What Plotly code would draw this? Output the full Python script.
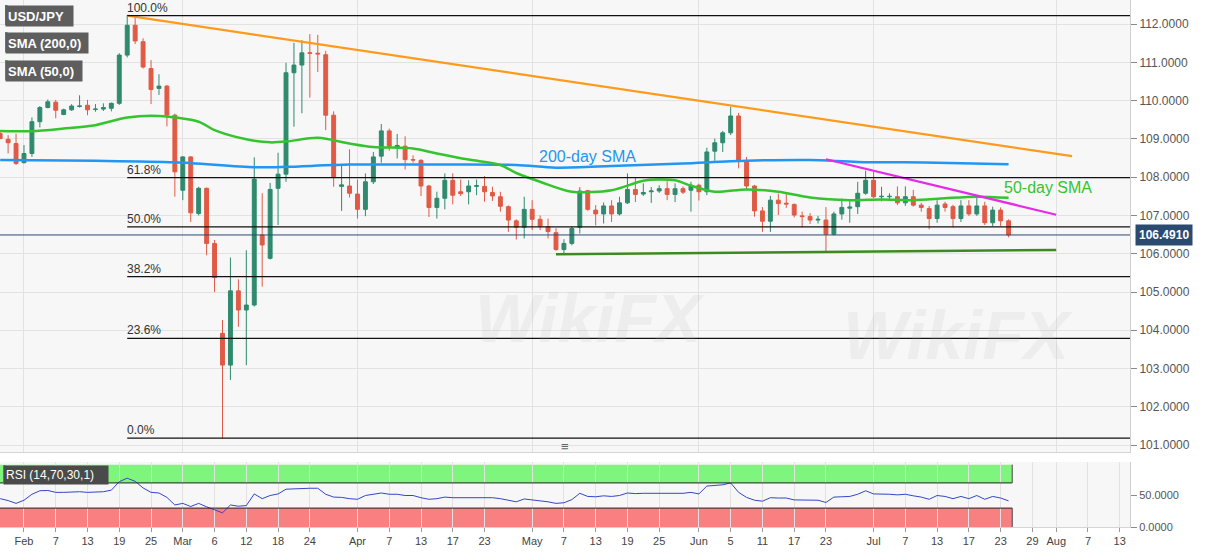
import pandas as pd
import plotly.graph_objects as go
from plotly.subplots import make_subplots

# ---------------- data ----------------
dates = pd.bdate_range("2020-01-29", "2020-07-24")

opens = [
    109.14, 108.99, 108.88,
    108.38, 108.62, 109.45, 109.82, 109.96, 109.64, 109.76, 109.85, 109.88, 109.77,
    109.78, 109.80, 109.93, 111.19, 111.97, 111.54, 110.84, 110.32, 110.38, 109.62,
    107.66, 108.53, 107.05, 107.71, 106.27, 103.92, 103.09, 105.03, 104.53, 104.66,
    106.49, 105.88, 107.71, 108.08, 110.73, 110.93, 111.25, 111.24, 111.20, 109.62,
    107.76, 107.77,
    107.56, 107.16, 107.88, 108.55, 109.21, 108.79, 108.81, 108.46, 108.44, 107.77,
    107.21, 107.45, 107.92, 107.62, 107.62, 107.76, 107.76, 107.60, 107.49, 107.23,
    106.86, 106.69,
    107.16, 106.90, 106.71, 106.55, 106.11, 106.27, 106.69, 107.65, 107.14, 107.04,
    107.25, 107.04, 107.33, 107.68, 107.56, 107.62, 107.64, 107.70, 107.55, 107.70,
    107.66,
    107.79, 107.62, 108.68, 108.90, 109.16, 109.60, 108.43, 107.77, 107.12, 106.85,
    107.40, 107.32, 107.29, 106.99, 106.97, 106.88, 106.88, 106.51, 107.04, 107.19,
    107.23, 107.58,
    107.92, 107.49, 107.49, 107.49, 107.33, 107.49, 107.27, 107.18, 106.92, 107.30,
    107.23, 106.92, 107.25, 107.04, 107.25, 106.81, 107.14, 106.86,
]
highs = [
    109.23, 109.10, 109.14,
    108.84, 109.56, 109.86, 110.03, 110.02, 109.79, 109.91, 110.14, 110.02, 109.91,
    109.93, 109.95, 111.24, 112.24, 112.22, 111.63, 111.06, 110.69, 110.41, 109.66,
    108.55, 108.55, 107.75, 107.73, 106.36, 104.27, 105.90, 105.33, 106.09, 108.52,
    107.58, 107.85, 108.64, 110.99, 111.51, 111.58, 111.74, 111.72, 111.30, 109.72,
    108.32, 108.73,
    107.94, 108.10, 108.66, 109.39, 109.27, 109.13, 109.07, 108.57, 108.47, 107.80,
    107.62, 108.10, 108.10, 107.94, 107.92, 107.94, 108.03, 107.75, 107.62, 107.26,
    106.90, 107.49,
    107.40, 107.00, 106.92, 106.67, 106.38, 106.72, 107.74, 107.67, 107.27, 107.34,
    107.40, 107.49, 108.10, 107.99, 107.84, 107.74, 107.79, 107.90, 107.84, 107.76,
    107.88,
    107.83, 108.77, 109.01, 109.21, 109.84, 109.68, 108.53, 107.80, 107.22, 107.51,
    107.57, 107.58, 107.31, 107.10, 107.06, 106.99, 107.22, 107.10, 107.44, 107.40,
    107.88, 108.17,
    108.14, 107.75, 107.58, 107.76, 107.76, 107.67, 107.33, 107.25, 107.40, 107.36,
    107.28, 107.40, 107.40, 107.49, 107.36, 107.23, 107.21, 106.90,
]
lows = [
    109.00, 108.62, 108.32,
    108.36, 108.53, 109.30, 109.80, 109.54, 109.62, 109.73, 109.82, 109.62, 109.71,
    109.73, 109.72, 109.89, 111.13, 111.48, 110.84, 109.91, 110.15, 109.33, 107.49,
    107.40, 106.83, 107.00, 105.96, 105.00, 101.17, 102.70, 104.09, 103.09, 104.62,
    105.14, 105.85, 106.75, 107.88, 109.32, 109.67, 110.08, 110.75, 109.23, 107.75,
    107.12, 107.47,
    106.92, 106.98, 107.82, 108.38, 108.69, 108.49, 108.20, 108.38, 107.51, 106.96,
    106.92, 107.16, 107.29, 107.51, 107.29, 107.53, 107.36, 107.38, 107.10, 106.57,
    106.37, 106.40,
    106.62, 106.62, 106.40, 106.08, 106.01, 106.22, 106.53, 107.12, 106.74, 106.79,
    106.83, 107.00, 107.30, 107.35, 107.51, 107.33, 107.59, 107.40, 107.35, 107.56,
    107.10,
    107.39, 107.53, 108.43, 108.66, 109.10, 108.23, 107.68, 106.97, 106.57, 106.57,
    107.01, 107.20, 106.95, 106.69, 106.78, 106.79, 106.05, 106.48, 106.89, 106.81,
    107.04, 107.54,
    107.45, 107.37, 107.42, 107.27, 107.25, 107.23, 107.10, 106.64, 106.81, 107.10,
    106.69, 106.83, 106.99, 106.99, 106.75, 106.72, 106.72, 106.43,
]
closes = [
    109.01, 108.90, 108.36,
    108.62, 109.45, 109.82, 109.97, 109.75, 109.76, 109.86, 109.86, 109.76, 109.78,
    109.82, 109.93, 111.19, 111.97, 111.56, 110.88, 110.29, 110.38, 109.62, 108.14,
    108.53, 107.07, 107.71, 106.27, 105.38, 103.09, 105.03, 104.53, 104.66, 107.95,
    106.23, 107.68, 108.08, 110.73, 110.93, 111.25, 111.24, 111.22, 109.62, 108.01,
    107.80, 107.58,
    107.16, 107.88, 108.53, 109.21, 108.81, 108.83, 108.46, 108.45, 107.77, 107.21,
    107.45, 107.92, 107.53, 107.57, 107.77, 107.78, 107.62, 107.51, 107.24, 106.88,
    106.69, 107.16,
    106.90, 106.72, 106.58, 106.11, 106.27, 106.66, 107.64, 107.16, 107.04, 107.25,
    107.04, 107.33, 107.68, 107.55, 107.60, 107.64, 107.70, 107.55, 107.70, 107.61,
    107.79,
    107.62, 108.66, 108.90, 109.16, 109.60, 108.45, 107.77, 107.12, 106.85, 107.40,
    107.31, 107.30, 107.01, 106.97, 106.88, 106.90, 106.51, 107.04, 107.21, 107.22,
    107.58, 107.92,
    107.49, 107.50, 107.50, 107.33, 107.49, 107.27, 107.21, 106.92, 107.27, 107.21,
    106.92, 107.25, 107.04, 107.25, 106.81, 107.14, 106.86, 106.49,
]
rsi_values = [
    45, 42, 37.5,
    42.5, 52, 57.5, 58, 55, 55, 56, 56, 55, 55, 56, 58.5, 72, 77.5, 72.5, 62, 55, 54, 47, 35,
    37.5, 32.5, 37.5, 32, 27.5, 22.5, 35, 33, 34, 52.5, 45, 50, 52.5, 60, 60.5, 61.5, 61.5,
    61.5, 52, 47.5, 47, 45,
    44, 50, 52, 54, 52, 52, 50, 50, 46.5, 44, 45, 47.5, 46.5, 46.5, 47.5, 47.5, 46.5, 46.5,
    45, 42.5, 40, 44.5,
    42.5, 41.5, 40, 37.5, 38.5, 43.5, 53.5, 48.5, 48, 49.5, 48.5, 50, 54, 53, 53.5, 53.5, 54,
    53, 54, 53.5, 55,
    52.5, 65, 66, 67, 70, 55, 47, 42.5, 41, 46.5, 46, 46, 43, 42.5, 42, 42.5, 39, 47.5, 48,
    48.5, 52, 57.5,
    52.5, 52.5, 52, 51, 52, 49.5, 47.5, 44, 50, 48.5, 45, 48.5, 45, 50, 44, 48.5, 46, 41.5,
]

sma200_dates = ["2020-01-29", "2020-02-14", "2020-02-28", "2020-03-13", "2020-03-19",
                "2020-03-31", "2020-04-15", "2020-04-29", "2020-05-06", "2020-05-15",
                "2020-05-28", "2020-06-09", "2020-06-19", "2020-06-29", "2020-07-13",
                "2020-07-24"]
sma200_values = [108.45, 108.43, 108.39, 108.26, 108.27, 108.33, 108.33, 108.32, 108.25,
                 108.29, 108.36, 108.43, 108.45, 108.40, 108.38, 108.34]

sma50_dates = ["2020-01-29", "2020-02-04", "2020-02-10", "2020-02-14", "2020-02-20",
               "2020-02-26", "2020-03-04", "2020-03-06", "2020-03-12", "2020-03-17",
               "2020-03-19", "2020-03-25", "2020-03-31", "2020-04-03", "2020-04-10",
               "2020-04-15", "2020-04-21", "2020-04-27", "2020-04-29", "2020-05-04",
               "2020-05-08", "2020-05-15", "2020-05-21", "2020-05-25", "2020-05-27",
               "2020-05-29", "2020-06-03", "2020-06-09", "2020-06-15", "2020-06-19",
               "2020-06-26", "2020-07-02", "2020-07-08", "2020-07-14", "2020-07-20",
               "2020-07-24"]
sma50_values = [109.21, 109.20, 109.27, 109.36, 109.56, 109.60, 109.45, 109.23, 108.99,
                108.91, 108.93, 109.03, 108.88, 108.79, 108.75, 108.62, 108.46, 108.32,
                108.11, 107.88, 107.62, 107.66, 107.91, 107.94, 107.92, 107.78, 107.62,
                107.68, 107.62, 107.47, 107.40, 107.42, 107.40, 107.45, 107.49, 107.46]

fib_labels = ["100.0%", "61.8%", "50.0%", "38.2%", "23.6%", "0.0%"]
fib_levels = [112.22, 107.99, 106.70, 105.40, 103.79, 101.18]
fib_start = "2020-02-20"

resistance_dates = ["2020-02-20", "2020-08-05"]
resistance_values = [112.22, 108.55]
short_res_dates = ["2020-06-23", "2020-08-03"]
short_res_values = [108.47, 107.02]
support_dates = ["2020-05-06", "2020-08-03"]
support_values = [105.99, 106.10]

last_price = 106.491

tick_dates = ["2020-02-03", "2020-02-07", "2020-02-13", "2020-02-19", "2020-02-25",
              "2020-03-02", "2020-03-06", "2020-03-12", "2020-03-18", "2020-03-24",
              "2020-04-01", "2020-04-07", "2020-04-13", "2020-04-17", "2020-04-23",
              "2020-05-01", "2020-05-07", "2020-05-13", "2020-05-19", "2020-05-25",
              "2020-06-01", "2020-06-05", "2020-06-11", "2020-06-17", "2020-06-23",
              "2020-07-01", "2020-07-07", "2020-07-13", "2020-07-17", "2020-07-23",
              "2020-07-29", "2020-08-03", "2020-08-07", "2020-08-13"]
tick_text = ["Feb", "7", "13", "19", "25", "Mar", "6", "12", "18", "24",
             "Apr", "7", "13", "17", "23", "May", "7", "13", "19", "25",
             "Jun", "5", "11", "17", "23", "Jul", "7", "13", "17", "23",
             "29", "Aug", "7", "13"]
month_starts = ["2020-02-03", "2020-03-02", "2020-04-01", "2020-05-01",
                "2020-06-01", "2020-07-01", "2020-08-03"]

# ---------------- styling ----------------
FONT = "Liberation Sans, Arial, sans-serif"
UP = "#2f8a6e"
DOWN = "#e05a45"
BLUE = "#2196f3"
GREEN = "#33c42e"
X_RANGE = ["2020-01-28 23:30", "2020-08-14 07:00"]
PLOT_W, PLOT_H = 1130, 527


def px_x(v):
    return v / PLOT_W


def px_y(v):
    return 1 - v / PLOT_H


fig = make_subplots(rows=2, cols=1, shared_xaxes=True)

fig.add_trace(go.Candlestick(
    x=dates, open=opens, high=highs, low=lows, close=closes,
    increasing=dict(line=dict(color=UP, width=1), fillcolor=UP),
    decreasing=dict(line=dict(color=DOWN, width=1), fillcolor=DOWN),
    whiskerwidth=0, showlegend=False, hoverinfo="skip"), row=1, col=1)

fig.add_trace(go.Scatter(x=sma200_dates, y=sma200_values, mode="lines",
                         line=dict(color=BLUE, width=2.5, shape="spline", smoothing=0.8),
                         showlegend=False, hoverinfo="skip"), row=1, col=1)
fig.add_trace(go.Scatter(x=sma50_dates, y=sma50_values, mode="lines",
                         line=dict(color=GREEN, width=2.5, shape="spline", smoothing=0.8),
                         showlegend=False, hoverinfo="skip"), row=1, col=1)
fig.add_trace(go.Scatter(x=resistance_dates, y=resistance_values, mode="lines",
                         line=dict(color="#ff9a1a", width=2.2),
                         showlegend=False, hoverinfo="skip"), row=1, col=1)
fig.add_trace(go.Scatter(x=short_res_dates, y=short_res_values, mode="lines",
                         line=dict(color="#e52ce5", width=2.2),
                         showlegend=False, hoverinfo="skip"), row=1, col=1)
fig.add_trace(go.Scatter(x=support_dates, y=support_values, mode="lines",
                         line=dict(color="#3d8a22", width=2.5),
                         showlegend=False, hoverinfo="skip"), row=1, col=1)

fig.add_trace(go.Scatter(x=dates, y=rsi_values, mode="lines",
                         line=dict(color="#3346c8", width=1),
                         showlegend=False, hoverinfo="skip"), row=2, col=1)

shapes = []
annotations = []

# faint watermark (kept clear of the other texts)
for (wx, wy) in [(590, 318), (1075, 335)]:
    annotations.append(dict(xref="paper", yref="paper", x=px_x(wx), y=px_y(wy),
                            text="<b><i>WikiFX</i></b>", showarrow=False,
                            font=dict(family=FONT, size=68, color="rgba(185,175,175,0.14)")))

# fibonacci levels
for lab, lev in zip(fib_labels, fib_levels):
    shapes.append(dict(type="line", xref="x", yref="y", x0=fib_start, x1=X_RANGE[1],
                       y0=lev, y1=lev, line=dict(color="#111111", width=1.3)))
    annotations.append(dict(xref="x", yref="y", x=fib_start, y=lev, text=lab,
                            showarrow=False, xanchor="left", yanchor="bottom",
                            xshift=-2, yshift=-1,
                            font=dict(family=FONT, size=12, color="#333333")))

# current price line + label
shapes.append(dict(type="line", xref="paper", yref="y", x0=0, x1=1,
                   y0=last_price, y1=last_price, line=dict(color="#2b4a6f", width=1)))
annotations.append(dict(xref="paper", yref="y", x=1, y=last_price,
                        text="<b>%.4f</b>" % last_price, showarrow=False,
                        xanchor="left", xshift=5, bgcolor="#2b4a6f", borderpad=3,
                        font=dict(family=FONT, size=12, color="white")))

# SMA labels
annotations.append(dict(xref="x", yref="y", x="2020-05-12", y=108.55, text="200-day SMA",
                        showarrow=False, font=dict(family=FONT, size=16, color=BLUE)))
annotations.append(dict(xref="x", yref="y", x="2020-07-31", y=107.72, text="50-day SMA",
                        showarrow=False, font=dict(family=FONT, size=16, color=GREEN)))

# legend boxes (top-left)
for (txt, col, y0, w) in [("USD/JPY", UP, 5, 75),
                          ("SMA (200,0)", BLUE, 32, 90),
                          ("SMA (50,0)", GREEN, 60, 84)]:
    annotations.append(dict(xref="paper", yref="paper", x=px_x(5), y=px_y(y0),
                            xanchor="left", yanchor="top", width=w - 12, height=16,
                            align="left", borderpad=2, bgcolor="#5e5e5e",
                            text="<b>%s</b>" % txt, showarrow=False,
                            font=dict(family=FONT, size=13, color="white")))
    shapes.append(dict(type="rect", xref="paper", yref="paper",
                       x0=px_x(5), x1=px_x(7.5), y0=px_y(y0 + 20), y1=px_y(y0),
                       fillcolor=col, line=dict(width=0), layer="above"))

# RSI bands
band_end = "2020-07-24 11:00"
band_start = "2020-01-28 12:00"
shapes.append(dict(type="rect", xref="x2", yref="y2", x0=band_start, x1=band_end,
                   y0=70, y1=99, fillcolor="#80f57e", line=dict(width=0), layer="below"))
shapes.append(dict(type="rect", xref="x2", yref="y2", x0=band_start, x1=band_end,
                   y0=0, y1=30, fillcolor="#f98080", line=dict(width=0), layer="below"))
for lv in (70, 30):
    shapes.append(dict(type="line", xref="x2", yref="y2", x0=band_start, x1=band_end,
                       y0=lv, y1=lv, line=dict(color="#222222", width=1)))
for (a, b) in [(70, 99), (0, 30)]:
    shapes.append(dict(type="line", xref="x2", yref="y2", x0=band_end, x1=band_end,
                       y0=a, y1=b, line=dict(color="#444444", width=1)))
annotations.append(dict(xref="paper", yref="paper", x=px_x(3), y=px_y(465),
                        xanchor="left", yanchor="top", width=100, height=14,
                        align="left", borderpad=2, bgcolor="#4a4a4a",
                        text="RSI (14,70,30,1)", showarrow=False,
                        font=dict(family=FONT, size=12, color="white")))
shapes.append(dict(type="rect", xref="paper", yref="paper",
                   x0=px_x(3), x1=px_x(5.5), y0=px_y(483), y1=px_y(465),
                   fillcolor="#3cc43c", line=dict(width=0), layer="above"))

# panel divider handle
annotations.append(dict(xref="paper", yref="paper", x=px_x(565), y=px_y(456),
                        text="≡", showarrow=False,
                        font=dict(family=FONT, size=13, color="#666666")))

breaks = [dict(bounds=["sat", "mon"])]

fig.update_layout(
    width=1207, height=555,
    margin=dict(l=0, r=77, t=0, b=28),
    paper_bgcolor="white", plot_bgcolor="#f7f7f7",
    font=dict(family=FONT, size=12, color="#444444"),
    shapes=shapes, annotations=annotations,
    showlegend=False, hovermode=False,
    xaxis=dict(domain=[0, 1], range=X_RANGE, rangebreaks=breaks,
               rangeslider=dict(visible=False), showticklabels=False,
               tickvals=month_starts, ticks="", showgrid=True, gridcolor="#e2e2e2",
               gridwidth=1, showline=True, linecolor="#d5d5d5", zeroline=False),
    xaxis2=dict(domain=[0, 1], range=X_RANGE, rangebreaks=breaks,
                tickvals=tick_dates, ticktext=tick_text, ticks="outside", ticklen=4,
                tickcolor="#9a9a9a", showgrid=True, gridcolor="#e2e2e2",
                tickfont=dict(family=FONT, size=11, color="#444444"),
                showline=True, linecolor="#d5d5d5", zeroline=False),
    yaxis=dict(domain=[1 - 452 / PLOT_H, 1], range=[100.82, 112.63], side="right",
               tickvals=list(range(101, 113)), tickformat=".4f",
               ticks="outside", ticklen=6, tickcolor="#8a8a8a",
               showgrid=True, gridcolor="#e2e2e2", showline=True, linecolor="#cfcfcf",
               zeroline=False, tickfont=dict(family=FONT, size=12, color="#555555")),
    yaxis2=dict(domain=[0, 1 - 462 / PLOT_H], range=[0, 103.2], side="right",
                tickvals=[0, 50], tickformat=".4f", ticks="outside", ticklen=6,
                tickcolor="#8a8a8a", showgrid=False, showline=True, linecolor="#cfcfcf",
                zeroline=False, tickfont=dict(family=FONT, size=11, color="#555555")),
)

fig.write_html("out.html", config={"displayModeBar": False},
               post_script="document.body.style.margin='0';document.body.style.padding='0';")
